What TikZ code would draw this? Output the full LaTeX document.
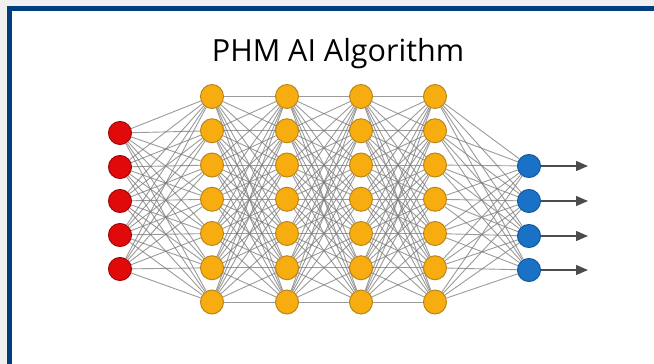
\documentclass[tikz,border=0pt]{standalone}
\usepackage{fontspec}
\setmainfont{Open Sans}
\usetikzlibrary{arrows.meta,shapes.geometric}
\pgfdeclarelayer{frame}
\pgfdeclarelayer{edges}
\pgfsetlayers{frame,edges,main}
\definecolor{frameblue}{HTML}{003E7E}
\definecolor{pagegrey}{HTML}{F0F0F0}
\definecolor{inred}{HTML}{E00A0A}
\definecolor{inredline}{HTML}{A00808}
\definecolor{hidorange}{HTML}{F7AC10}
\definecolor{hidline}{HTML}{B8861C}
\definecolor{outblue}{HTML}{1A72C6}
\definecolor{outline}{HTML}{13589A}
\definecolor{wire}{HTML}{7A7A7A}
\tikzset{
  inneuron/.style={circle,fill=inred,draw=inredline,line width=1pt,minimum size=23pt,inner sep=0pt},
  hidneuron/.style={ellipse,fill=hidorange,draw=hidline,line width=1pt,minimum width=23pt,minimum height=24pt,inner sep=0pt},
  outneuron/.style={circle,fill=outblue,draw=outline,line width=1pt,minimum size=23pt,inner sep=0pt},
  synapse/.style={draw=wire,line width=0.9pt,opacity=0.75},
  outarrow/.style={draw=black!70,line width=1.1pt,-{Triangle[length=12pt,width=10pt]}},
  title/.style={font=\fontsize{30.5}{36}\selectfont,text=black}
}
\begin{document}
\begin{tikzpicture}[x=1pt,y=-1pt]
  \useasboundingbox (0,0) rectangle (654,364);
  % page and frame
  \begin{pgfonlayer}{frame}
    \fill[pagegrey] (0,0) rectangle (654,364);
    \filldraw[fill=white,draw=frameblue,line width=5pt] (9.5,8.5) rectangle (700,420);
  \end{pgfonlayer}

  \node[title] (heading) at (338,54) {PHM AI Algorithm};

  % input layer
  \foreach \k/\y in {1/133,2/167,3/201,4/235,5/269}
    \node[inneuron] (i\k) at (120,\y) {};

  % hidden layers
  \foreach \l/\x in {1/212,2/287,3/361,4/435}
    \foreach \k in {1,...,7}
      \node[hidneuron] (h\l-\k) at (\x,{96.5+(\k-1)*34.25}) {};

  % output layer
  \foreach \k/\y in {1/166,2/201,3/236,4/270}
    \node[outneuron] (o\k) at (529,\y) {};

  % output arrows
  \foreach \k/\y in {1/166,2/201,3/236,4/270} {
    \coordinate (t\k) at (588,\y);
    \draw[outarrow] (o\k) -- (t\k);
  }

  % connections between consecutive layers
  \begin{pgfonlayer}{edges}
    \foreach \a in {1,...,5}
      \foreach \b in {1,...,7}
        \draw[synapse] (i\a) -- (h1-\b);
    \foreach \l/\m in {1/2,2/3,3/4}
      \foreach \a in {1,...,7}
        \foreach \b in {1,...,7}
          \draw[synapse] (h\l-\a) -- (h\m-\b);
    \foreach \a in {1,...,7}
      \foreach \b in {1,...,4}
        \draw[synapse] (h4-\a) -- (o\b);
  \end{pgfonlayer}
\end{tikzpicture}
\end{document}
